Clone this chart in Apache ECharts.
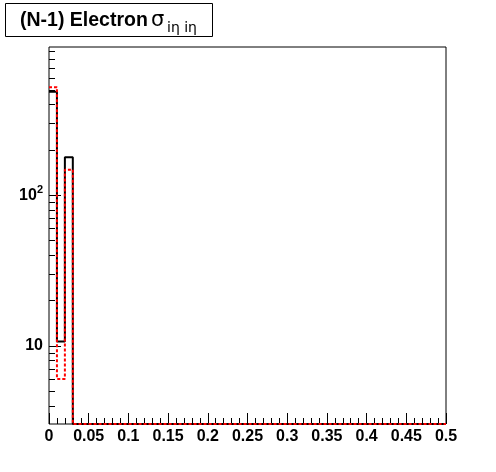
<!DOCTYPE html>
<html>
<head>
<meta charset="utf-8">
<script src="https://cdn.jsdelivr.net/npm/echarts@6/dist/echarts.min.js"></script>
<style>html,body{margin:0;padding:0;background:#fff}#c{width:496px;height:472px}</style>
</head>
<body>
<div id="c"></div>
<script>
// Bin edges: 50 bins of width 0.01 from 0 to 0.5
const binLow = [0.00,0.01,0.02,0.03,0.04,0.05,0.06,0.07,0.08,0.09,
                0.10,0.11,0.12,0.13,0.14,0.15,0.16,0.17,0.18,0.19,
                0.20,0.21,0.22,0.23,0.24,0.25,0.26,0.27,0.28,0.29,
                0.30,0.31,0.32,0.33,0.34,0.35,0.36,0.37,0.38,0.39,
                0.40,0.41,0.42,0.43,0.44,0.45,0.46,0.47,0.48,0.49];
const X_MAX = 0.5;
// Black (solid) histogram counts
const blackCounts = [487,10.7,179,0,0,0,0,0,0,0, 0,0,0,0,0,0,0,0,0,0,
                     0,0,0,0,0,0,0,0,0,0, 0,0,0,0,0,0,0,0,0,0, 0,0,0,0,0,0,0,0,0,0];
// Red (dashed) histogram counts
const redCounts   = [521,6.04,148,0,0,0,0,0,0,0, 0,0,0,0,0,0,0,0,0,0,
                     0,0,0,0,0,0,0,0,0,0, 0,0,0,0,0,0,0,0,0,0, 0,0,0,0,0,0,0,0,0,0];
const Y_MIN = 3.037, Y_MAX = 964;
const yMajorTicks = [10, 100];
const yMinorTicks = [4,5,6,7,8,9,20,30,40,50,60,70,80,90,200,300,400,500,600,700,800,900];

function stepData(counts) {
  const pts = [];
  for (let i = 0; i < counts.length; i++) {
    pts.push([binLow[i], Math.max(counts[i], Y_MIN)]);
  }
  pts.push([X_MAX, Math.max(counts[counts.length - 1], Y_MIN)]);
  return pts;
}

const FONT = '"Liberation Sans", Arial, Helvetica, sans-serif';
const chart = echarts.init(document.getElementById('c'), null, {renderer: 'canvas'});
chart.setOption({
  animation: false,
  backgroundColor: '#fff',
  grid: {left: 49, right: 50, top: 47, bottom: 48, show: true, borderColor: '#000', borderWidth: 1, backgroundColor: '#fff'},
  xAxis: {
    type: 'value', min: 0, max: X_MAX, interval: 0.05,
    axisLine: {show: false},
    splitLine: {show: false},
    axisTick: {show: true, inside: true, length: 11, lineStyle: {color: '#000', width: 1}},
    minorTick: {show: true, splitNumber: 5, length: 6, lineStyle: {color: '#000', width: 1}},
    axisLabel: {color: '#000', fontFamily: FONT, fontWeight: 'bold', fontSize: 16, margin: 5,
      formatter: v => String(+v.toFixed(2))}
  },
  yAxis: [{
    type: 'log', logBase: 10, min: Y_MIN, max: Y_MAX,
    axisLine: {show: false},
    splitLine: {show: false},
    axisTick: {show: true, inside: true, length: 12, customValues: yMajorTicks, lineStyle: {color: '#000', width: 1}},
    axisLabel: {
      customValues: yMajorTicks, margin: 6, color: '#000',
      formatter: v => {
        const e = Math.round(Math.log10(v));
        return e === 1 ? '{b|10}' : '{b|10}{s|' + e + '}';
      },
      rich: {
        b: {fontFamily: FONT, fontWeight: 'bold', fontSize: 16, color: '#000', lineHeight: 20},
        s: {fontFamily: FONT, fontWeight: 'bold', fontSize: 11, color: '#000', lineHeight: 20, padding: [0,0,10,0]}
      }
    }
  }, {
    type: 'log', logBase: 10, min: Y_MIN, max: Y_MAX, position: 'left',
    axisLine: {show: false},
    splitLine: {show: false},
    axisLabel: {show: false},
    axisTick: {show: true, inside: true, length: 6, customValues: yMinorTicks, lineStyle: {color: '#000', width: 1}}
  }],
  series: [{
    type: 'line', step: 'end', showSymbol: false, symbol: 'none', clip: false,
    data: stepData(blackCounts),
    lineStyle: {color: '#000', width: 2}
  }, {
    type: 'line', step: 'end', showSymbol: false, symbol: 'none', clip: false,
    data: stepData(redCounts),
    lineStyle: {color: '#ff0000', width: 2, type: [3, 2]}
  }],
  graphic: [
    {type: 'rect', shape: {x: 5.5, y: 3.5, width: 207, height: 33}, style: {fill: '#fff', stroke: '#000', lineWidth: 1}},
    {type: 'text', x: 20, y: 21, style: {text: '(N-1) Electron', font: 'bold 19.5px ' + FONT, fill: '#000', textVerticalAlign: 'middle'}},
    {type: 'text', x: 151, y: 21, style: {text: 'σ', font: '21px "DejaVu Sans", sans-serif', fill: '#000', textVerticalAlign: 'middle'}},
    {type: 'text', x: 167, y: 28, style: {text: 'iη iη', font: '14px "DejaVu Sans", sans-serif', fill: '#000', textVerticalAlign: 'middle'}}
  ]
});
</script>
</body>
</html>
